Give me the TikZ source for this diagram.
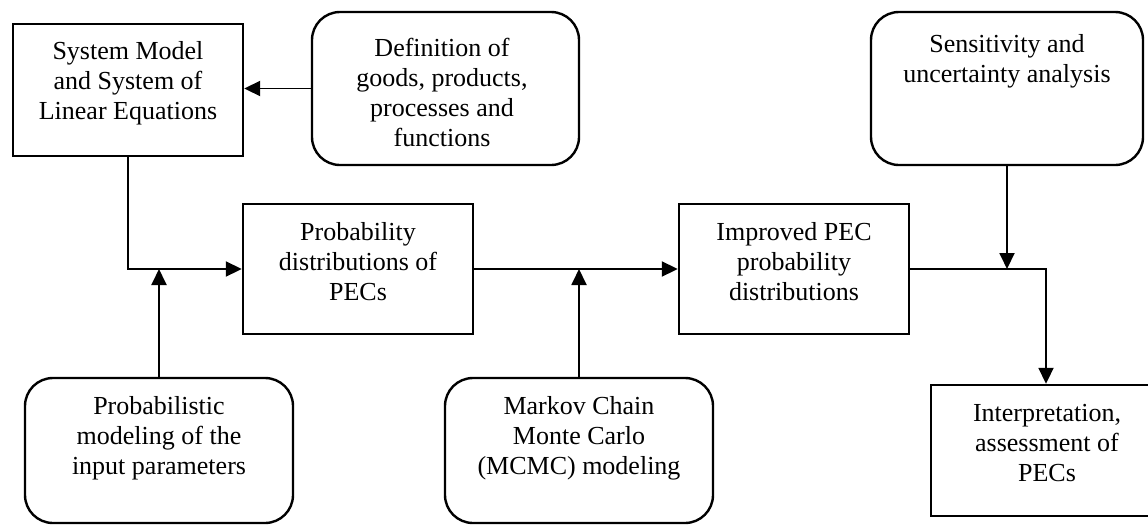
\documentclass[tikz,border=0pt]{standalone}
\usepackage{fontspec}
\setmainfont{Liberation Serif}
\usetikzlibrary{arrows.meta}
\tikzset{
  x=1pt, y=-1pt,
  boxshape/.style={draw=black, line width=2.4pt, inner sep=0pt},
  roundshape/.style={boxshape, rounded corners=28pt},
  label/.style={align=center, inner sep=0pt, font=\fontsize{26}{30}\selectfont},
  conn/.style={draw=black, line width=1.9pt},
  arr/.style={conn, -{Triangle[length=16pt, width=15pt]}},
}
\begin{document}
\begin{tikzpicture}
\useasboundingbox (0,0) rectangle (1148,525);
\clip (0,0) rectangle (1148,525);
% shapes
\node[boxshape, minimum width=230pt, minimum height=132pt] (sysA) at (128,90) {};
\node[roundshape, minimum width=267pt, minimum height=153pt] (def) at (445.5,88.5) {};
\node[roundshape, minimum width=272pt, minimum height=153pt] (sens) at (1007,88.5) {};
\node[boxshape, minimum width=230pt, minimum height=130pt] (prob) at (358,269) {};
\node[boxshape, minimum width=230pt, minimum height=130pt] (impr) at (794,269) {};
\node[boxshape, minimum width=230pt, minimum height=131pt] (interp) at (1046,450.5) {};
\node[roundshape, minimum width=268pt, minimum height=145pt] (probmod) at (159,450.5) {};
\node[roundshape, minimum width=268pt, minimum height=145pt] (mcmc) at (579,450.5) {};
% texts
\node[label] (tsysA) at (128,83) {System Model\\and System of\\Linear Equations};
\node[label] (tdef) at (442,92) {Definition of\\goods, products,\\processes and\\functions};
\node[label] (tsens) at (1007,61) {Sensitivity and\\uncertainty analysis};
\node[label] (tprob) at (358,262) {Probability\\distributions of\\PECs};
\node[label] (timpr) at (794,262) {Improved PEC\\probability\\distributions};
\node[label] (tinterp) at (1047,443) {Interpretation,\\assessment of\\PECs};
\node[label] (tprobmod) at (159,438) {Probabilistic\\modeling of the\\input parameters};
\node[label] (tmcmc) at (579,438) {Markov Chain\\Monte Carlo\\(MCMC) modeling};
% connectors
\draw[arr] (def.west) -- (def.west -| sysA.east);
\draw[arr] (sysA.south) |- (prob.west);
\draw[arr] (probmod.north) -- (probmod.north |- prob.west);
\draw[arr] (prob.east) -- (impr.west);
\draw[arr] (mcmc.north) -- (mcmc.north |- impr.west);
\draw[arr] (impr.east) -| (interp.north);
\draw[arr] (sens.south) -- (sens.south |- impr.east);
\end{tikzpicture}
\end{document}
